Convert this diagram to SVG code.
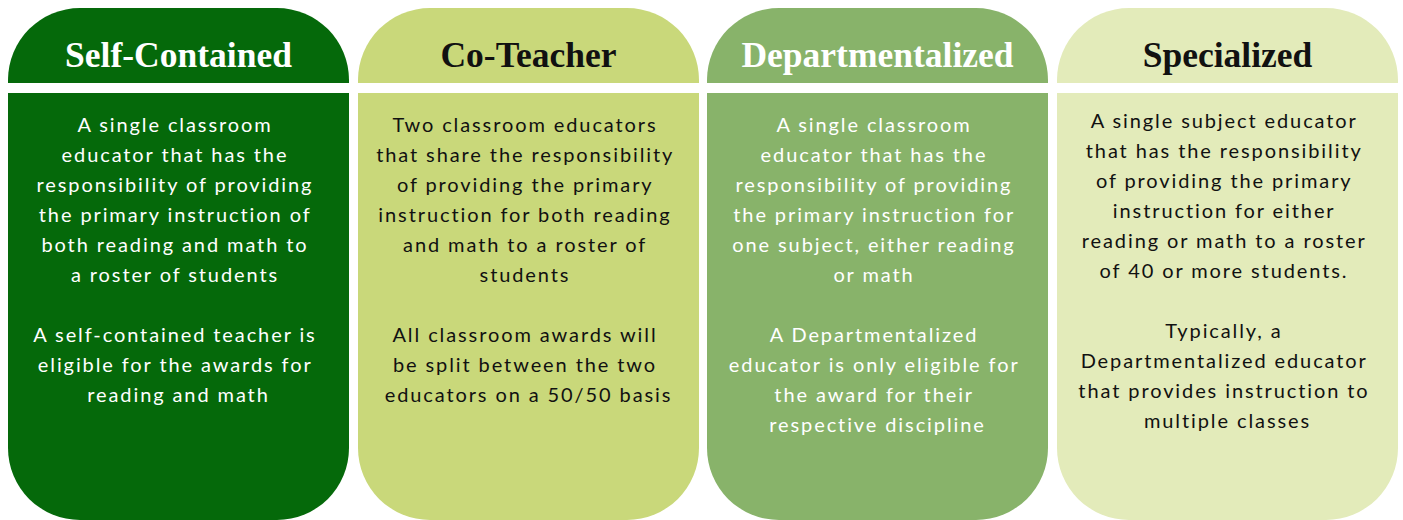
<svg xmlns="http://www.w3.org/2000/svg" width="1403" height="520" viewBox="0 0 1403 520">
<style>
.h{font-family:"Liberation Serif","DejaVu Serif",serif;font-weight:bold;font-size:35.5px;text-anchor:middle}
.b{font-family:Lato,"Liberation Sans",sans-serif;font-size:20px;letter-spacing:1.9px;text-anchor:middle}
.lt{fill:#ffffff}
.dk{fill:#111111}
</style>
<defs>
<path id="hd" d="M0,75 V72 A72,72 0 0 1 72,0 H269 A72,72 0 0 1 341,72 V75 Z"/>
<path id="bd" d="M0,85 H341 V440 A72,72 0 0 1 269,512 H72 A72,72 0 0 1 0,440 Z"/>
</defs>
<g id="connectors"/>
<g id="self-contained" transform="translate(8,8)">
<use href="#hd" fill="#05690A"/>
<use href="#bd" fill="#05690A"/>
<text class="h lt" x="170.5" y="59">Self-Contained</text>
<text class="b lt" x="170.5">
<tspan x="170.5" y="124">A single classroom</tspan>
<tspan x="170.5" y="154">educator that has the</tspan>
<tspan x="170.5" y="184">responsibility of providing</tspan>
<tspan x="170.5" y="214">the primary instruction of</tspan>
<tspan x="170.5" y="244">both reading and math to</tspan>
<tspan x="170.5" y="274">a roster of students</tspan>
<tspan x="170.5" y="334">A self-contained teacher is</tspan>
<tspan x="170.5" y="364">eligible for the awards for</tspan>
<tspan x="170.5" y="394">reading and math</tspan>
</text>
</g>
<g id="co-teacher" transform="translate(358,8)">
<use href="#hd" fill="#C9D87A"/>
<use href="#bd" fill="#C9D87A"/>
<text class="h dk" x="170.5" y="59">Co-Teacher</text>
<text class="b dk">
<tspan x="170.5" y="124">Two classroom educators</tspan>
<tspan x="170.5" y="154">that share the responsibility</tspan>
<tspan x="170.5" y="184">of providing the primary</tspan>
<tspan x="170.5" y="214">instruction for both reading</tspan>
<tspan x="170.5" y="244">and math to a roster of</tspan>
<tspan x="170.5" y="274">students</tspan>
<tspan x="170.5" y="334">All classroom awards will</tspan>
<tspan x="170.5" y="364">be split between the two</tspan>
<tspan x="170.5" y="394">educators on a 50/50 basis</tspan>
</text>
</g>
<g id="departmentalized" transform="translate(707,8)">
<use href="#hd" fill="#88B36A"/>
<use href="#bd" fill="#88B36A"/>
<text class="h lt" x="170.5" y="59">Departmentalized</text>
<text class="b lt">
<tspan x="170.5" y="124">A single classroom</tspan>
<tspan x="170.5" y="154">educator that has the</tspan>
<tspan x="170.5" y="184">responsibility of providing</tspan>
<tspan x="170.5" y="214">the primary instruction for</tspan>
<tspan x="170.5" y="244">one subject, either reading</tspan>
<tspan x="170.5" y="274">or math</tspan>
<tspan x="170.5" y="334">A Departmentalized</tspan>
<tspan x="170.5" y="364">educator is only eligible for</tspan>
<tspan x="170.5" y="394">the award for their</tspan>
<tspan x="170.5" y="424">respective discipline</tspan>
</text>
</g>
<g id="specialized" transform="translate(1057,8)">
<use href="#hd" fill="#E3EBBA"/>
<use href="#bd" fill="#E3EBBA"/>
<text class="h dk" x="170.5" y="59">Specialized</text>
<text class="b dk">
<tspan x="170.5" y="120">A single subject educator</tspan>
<tspan x="170.5" y="150">that has the responsibility</tspan>
<tspan x="170.5" y="180">of providing the primary</tspan>
<tspan x="170.5" y="210">instruction for either</tspan>
<tspan x="170.5" y="240">reading or math to a roster</tspan>
<tspan x="170.5" y="270">of 40 or more students.</tspan>
<tspan x="170.5" y="330">Typically, a</tspan>
<tspan x="170.5" y="360">Departmentalized educator</tspan>
<tspan x="170.5" y="390">that provides instruction to</tspan>
<tspan x="170.5" y="420">multiple classes</tspan>
</text>
</g>
</svg>
